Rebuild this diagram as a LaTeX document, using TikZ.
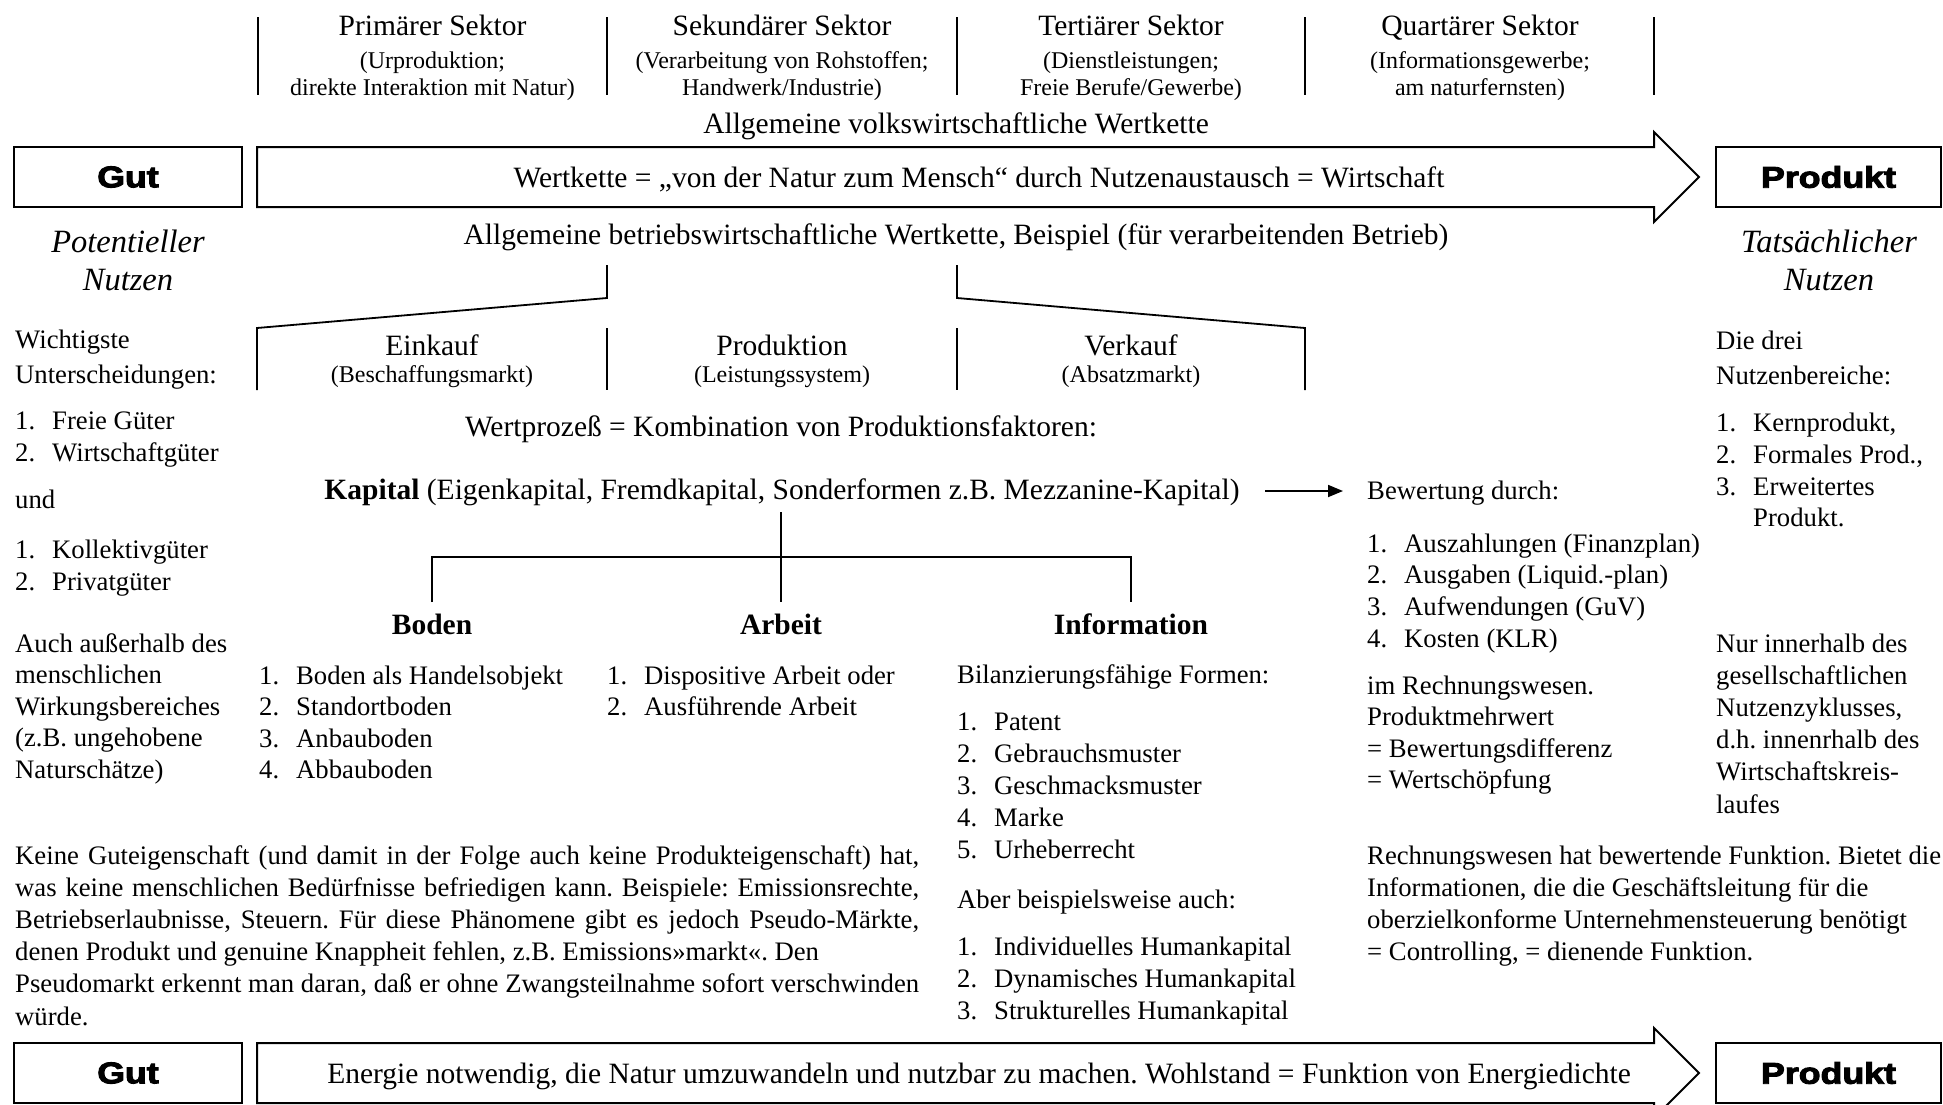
\documentclass[tikz,border=0pt]{standalone}
\usepackage{graphicx}
\usepackage{fontspec}
\setmainfont{Liberation Serif}
\newfontface\heavyfont{Liberation Sans Bold}[FakeBold=3]
\usetikzlibrary{arrows.meta}
\newcommand\lst[2]{\makebox[37pt][l]{#1}#2}
\newcommand\heavytext[1]{\scalebox{1.19}[1]{#1}}
\newcommand\jline[1]{\makebox[904pt][s]{#1}}
\begin{document}
\frenchspacing
\begin{tikzpicture}[x=1pt,y=-1pt,
  txt/.style={inner sep=0pt, font=\fontsize{29.5}{33}\selectfont},
  bdy/.style={inner sep=0pt, font=\fontsize{26.7}{32}\selectfont},
  itx/.style={inner sep=0pt, font=\fontsize{32.5}{39}\selectfont\itshape},
  bfx/.style={inner sep=0pt, font=\fontsize{29.5}{33}\selectfont\bfseries},
  sml/.style={inner sep=0pt, font=\fontsize{24}{28}\selectfont},
  heavybox/.style={draw, line width=2pt, minimum height=60pt, inner sep=0pt, font=\heavyfont\fontsize{30}{30}\selectfont},
  frame/.style={line width=2pt, line join=miter},
  rule/.style={line width=1.8pt},
]
\useasboundingbox[fill=white] (0,0) rectangle (1943,1104);

% ---------- sector separators ----------
\foreach \x [count=\i] in {258,607,957,1305,1654} {
  \coordinate (st\i) at (\x,17); \coordinate (sb\i) at (\x,95);
  \draw[rule] (st\i) -- (sb\i);
}
\node[txt, anchor=base] (s1t) at (432.5,35) {Primärer Sektor};
\node[sml, anchor=base] (s1a) at (432.5,68) {(Urproduktion;};
\node[sml, anchor=base] (s1b) at (432.5,95) {direkte Interaktion mit Natur)};
\node[txt, anchor=base] (s2t) at (782,35) {Sekundärer Sektor};
\node[sml, anchor=base] (s2a) at (782,68) {(Verarbeitung von Rohstoffen;};
\node[sml, anchor=base] (s2b) at (782,95) {Handwerk/Industrie)};
\node[txt, anchor=base] (s3t) at (1131,35) {Tertiärer Sektor};
\node[sml, anchor=base] (s3a) at (1131,68) {(Dienstleistungen;};
\node[sml, anchor=base] (s3b) at (1131,95) {Freie Berufe/Gewerbe)};
\node[txt, anchor=base] (s4t) at (1480,35) {Quartärer Sektor};
\node[sml, anchor=base] (s4a) at (1480,68) {(Informationsgewerbe;};
\node[sml, anchor=base] (s4b) at (1480,95) {am naturfernsten)};

\node[txt, anchor=base] (vw) at (956,133) {Allgemeine volkswirtschaftliche Wertkette};

% ---------- top value chain ----------
\node[heavybox, minimum width=228pt] (gut1) at (128,177) {\heavytext{Gut}};
\node[heavybox, minimum width=225pt] (prod1) at (1828.5,177) {\heavytext{Produkt}};
\draw[frame] (257,147) -- (1654,147) -- (1654,132) -- (1699,177) -- (1654,222) -- (1654,207) -- (257,207) -- cycle;
\node[txt, anchor=base] (wk) at (979,187) {Wertkette = „von der Natur zum Mensch“ durch Nutzenaustausch = Wirtschaft};

\node[txt, anchor=base] (bw) at (956,244) {Allgemeine betriebswirtschaftliche Wertkette, Beispiel (für verarbeitenden Betrieb)};
\node[itx, anchor=base] (pn1) at (128,252) {Potentieller};
\node[itx, anchor=base] (pn2) at (128,290) {Nutzen};
\node[itx, anchor=base] (tn1) at (1829,252) {Tatsächlicher};
\node[itx, anchor=base] (tn2) at (1829,290) {Nutzen};

% ---------- business value chain bracket ----------
\draw[rule] (607,265) -- (607,298) -- (257,328) -- (257,390);
\draw[rule] (957,265) -- (957,298) -- (1305,328) -- (1305,390);
\draw[rule] (607,328) -- (607,390);
\draw[rule] (957,328) -- (957,390);
\node[txt, anchor=base] (ek) at (432,355) {Einkauf};
\node[sml, anchor=base] (eks) at (432,382) {(Beschaffungsmarkt)};
\node[txt, anchor=base] (pr) at (782,355) {Produktion};
\node[sml, anchor=base] (prs) at (782,382) {(Leistungssystem)};
\node[txt, anchor=base] (vk) at (1131,355) {Verkauf};
\node[sml, anchor=base] (vks) at (1131,382) {(Absatzmarkt)};

\node[txt, anchor=base] (wp) at (781,436) {Wertprozeß = Kombination von Produktionsfaktoren:};
\node[txt, anchor=base] (kap) at (782,499) {\textbf{Kapital} (Eigenkapital, Fremdkapital, Sonderformen z.B. Mezzanine-Kapital)};

% ---------- factor tree ----------
\coordinate (kfoot) at (781,512);
\coordinate (tl) at (432,557); \coordinate (tm) at (781,557); \coordinate (tr) at (1131,557);
\coordinate (bl) at (432,602); \coordinate (bm) at (781,602); \coordinate (br) at (1131,602);
\draw[rule] (kfoot) -- (bm);
\draw[rule] (bl) -- (tl) -- (tr) -- (br);
\node[bfx, anchor=base] (boden) at (432,634) {Boden};
\node[bfx, anchor=base] (arbeit) at (781,634) {Arbeit};
\node[bfx, anchor=base] (info) at (1131,634) {Information};

\foreach \t [count=\i] in {Boden als Handelsobjekt, Standortboden, Anbauboden, Abbauboden}
  \node[bdy, anchor=base west] (bo\i) at (259,{684+(\i-1)*31.6}) {\lst{\i.}{\t}};
\foreach \t [count=\i] in {Dispositive Arbeit oder, Ausführende Arbeit}
  \node[bdy, anchor=base west] (ar\i) at (607,{684+(\i-1)*31.6}) {\lst{\i.}{\t}};
\node[bdy, anchor=base west] (bil) at (957,683) {Bilanzierungsfähige Formen:};
\foreach \t [count=\i] in {Patent, Gebrauchsmuster, Geschmacksmuster, Marke, Urheberrecht}
  \node[bdy, anchor=base west] (in\i) at (957,{730+(\i-1)*32.2}) {\lst{\i.}{\t}};
\node[bdy, anchor=base west] (aber) at (957,908) {Aber beispielsweise auch:};
\foreach \t [count=\i] in {Individuelles Humankapital, Dynamisches Humankapital, Strukturelles Humankapital}
  \node[bdy, anchor=base west] (hu\i) at (957,{955+(\i-1)*32.4}) {\lst{\i.}{\t}};

% ---------- valuation ----------
\coordinate (arrS) at (1265,491); \coordinate (arrE) at (1343,491);
\draw[rule, -{Triangle[length=15pt,width=12pt]}] (arrS) -- (arrE);
\node[bdy, anchor=base west] (bew) at (1367,499) {Bewertung durch:};
\foreach \t [count=\i] in {{Auszahlungen (Finanzplan)}, {Ausgaben (Liquid.-plan)}, {Aufwendungen (GuV)}, {Kosten (KLR)}}
  \node[bdy, anchor=base west] (bw\i) at (1367,{552+(\i-1)*31.7}) {\lst{\i.}{\t}};
\foreach \t [count=\i] in {im Rechnungswesen., Produktmehrwert, = Bewertungsdifferenz, = Wertschöpfung}
  \node[bdy, anchor=base west] (rw\i) at (1367,{694+(\i-1)*31.6}) {\t};

% ---------- left column ----------
\node[bdy, anchor=base west] (wi1) at (15,348) {Wichtigste};
\node[bdy, anchor=base west] (wi2) at (15,383) {Unterscheidungen:};
\node[bdy, anchor=base west] (fg1) at (15,429) {\lst{1.}{Freie Güter}};
\node[bdy, anchor=base west] (fg2) at (15,461) {\lst{2.}{Wirtschaftgüter}};
\node[bdy, anchor=base west] (und) at (15,508) {und};
\node[bdy, anchor=base west] (kg1) at (15,558) {\lst{1.}{Kollektivgüter}};
\node[bdy, anchor=base west] (kg2) at (15,590) {\lst{2.}{Privatgüter}};
\foreach \t [count=\i] in {{Auch außerhalb des}, {menschlichen}, {Wirkungsbereiches}, {(z.B. ungehobene}, {Naturschätze)}}
  \node[bdy, anchor=base west] (au\i) at (15,{652+(\i-1)*31.6}) {\t};

% ---------- right column ----------
\node[bdy, anchor=base west] (dd1) at (1716,349) {Die drei};
\node[bdy, anchor=base west] (dd2) at (1716,384) {Nutzenbereiche:};
\node[bdy, anchor=base west] (nb1) at (1716,431) {\lst{1.}{Kernprodukt,}};
\node[bdy, anchor=base west] (nb2) at (1716,463) {\lst{2.}{Formales Prod.,}};
\node[bdy, anchor=base west] (nb3) at (1716,495) {\lst{3.}{Erweitertes}};
\node[bdy, anchor=base west] (nb4) at (1753,526) {Produkt.};
\foreach \t [count=\i] in {{Nur innerhalb des}, {gesellschaftlichen}, {Nutzenzyklusses,}, {d.h. innenrhalb des}, {Wirtschaftskreis-}, {laufes}}
  \node[bdy, anchor=base west] (ni\i) at (1716,{652+(\i-1)*32.2}) {\t};

% ---------- bottom paragraphs ----------
\foreach \t [count=\i] in {
  {\jline{Keine Guteigenschaft (und damit in der Folge auch keine Produkteigenschaft) hat,}},
  {\jline{was keine menschlichen Bedürfnisse befriedigen kann. Beispiele: Emissionsrechte,}},
  {\jline{Betriebserlaubnisse, Steuern. Für diese Phänomene gibt es jedoch Pseudo-Märkte,}},
  {denen Produkt und genuine Knappheit fehlen, z.B. Emissions»markt«. Den},
  {\jline{Pseudomarkt erkennt man daran, daß er ohne Zwangsteilnahme sofort verschwinden}},
  {würde.}}
  \node[bdy, anchor=base west] (kg\i) at (15,{864+(\i-1)*32.2}) {\t};
\foreach \t [count=\i] in {
  {Rechnungswesen hat bewertende Funktion. Bietet die},
  {Informationen, die die Geschäftsleitung für die},
  {oberzielkonforme Unternehmensteuerung benötigt},
  {= Controlling, = dienende Funktion.}}
  \node[bdy, anchor=base west] (rf\i) at (1367,{864+(\i-1)*32}) {\t};

% ---------- bottom energy chain ----------
\node[heavybox, minimum width=228pt] (gut2) at (128,1073) {\heavytext{Gut}};
\node[heavybox, minimum width=225pt] (prod2) at (1828.5,1073) {\heavytext{Produkt}};
\draw[frame] (257,1043) -- (1654,1043) -- (1654,1028) -- (1699,1073) -- (1654,1118) -- (1654,1103) -- (257,1103) -- cycle;
\node[txt, anchor=base] (en) at (979,1083) {Energie notwendig, die Natur umzuwandeln und nutzbar zu machen. Wohlstand = Funktion von Energiedichte};
\end{tikzpicture}
\end{document}
